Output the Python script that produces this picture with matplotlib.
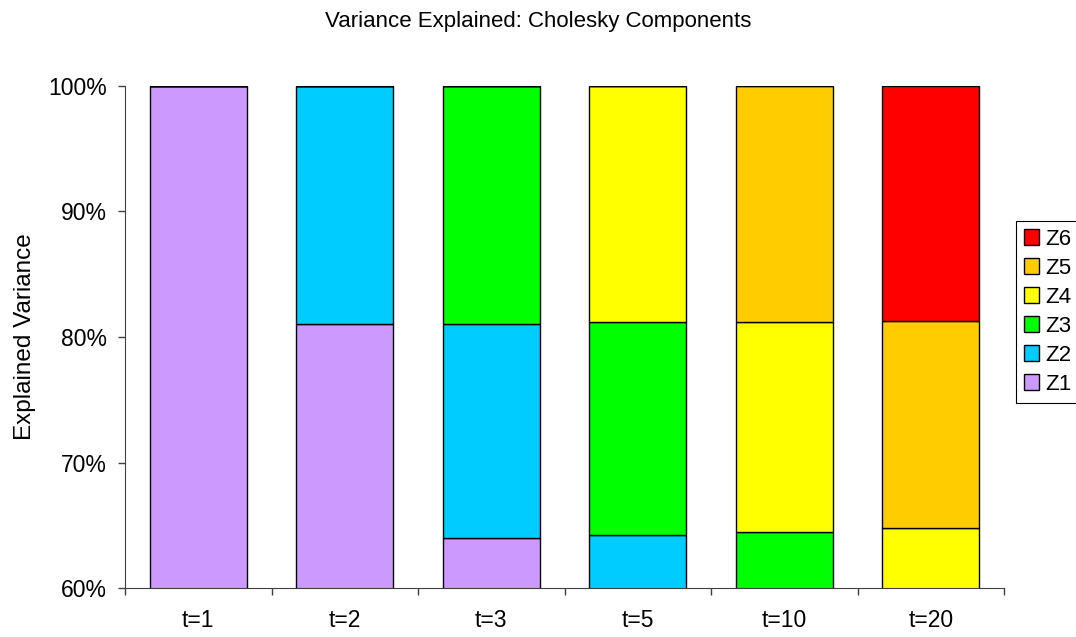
import numpy as np
import matplotlib.pyplot as plt
from matplotlib.ticker import PercentFormatter

plt.rcParams['font.family'] = ['Liberation Sans', 'DejaVu Sans']

horizons = ['t=1', 't=2', 't=3', 't=5', 't=10', 't=20']
components = ['Z1', 'Z2', 'Z3', 'Z4', 'Z5', 'Z6']
colors = ['#CC99FF', '#00CCFF', '#00FF00', '#FFFF00', '#FFCC00', '#FF0000']

# share of variance (%) for each component at each horizon
# (parts below 60% are hidden by the axis, those are rough guesses)
z1 = [100.0, 81.0, 64.0, 50.0, 42.0, 38.0]
z2 = [0.0, 19.0, 17.0, 14.2, 11.5, 10.0]
z3 = [0.0, 0.0, 19.0, 17.0, 11.0, 9.0]
z4 = [0.0, 0.0, 0.0, 18.8, 16.7, 7.75]
z5 = [0.0, 0.0, 0.0, 0.0, 18.8, 16.55]
z6 = [0.0, 0.0, 0.0, 0.0, 0.0, 18.7]

fs = 16.5

fig = plt.figure(figsize=(10.76, 6.37), dpi=100)
ax = fig.add_axes([0.1162, 0.0769, 0.8169, 0.7881])

x = np.arange(len(horizons))
bottom = np.zeros(len(horizons))
for name, vals, col in zip(components, [z1, z2, z3, z4, z5, z6], colors):
    vals = np.array(vals)
    ax.bar(x, vals, 0.66, bottom=bottom, color=col, edgecolor='black',
           linewidth=1.0, label=name)
    bottom = bottom + vals

ax.set_xlim(-0.5, len(horizons) - 0.5)
ax.set_ylim(60, 100)
ax.set_yticks([60, 70, 80, 90, 100])
ax.yaxis.set_major_formatter(PercentFormatter(decimals=0))
ax.set_xticks(x)
ax.set_xticklabels(horizons)
ax.set_xticks(np.arange(-0.5, len(horizons)), minor=True)
ax.tick_params(axis='x', which='major', length=0, pad=15, labelsize=fs)
ax.tick_params(axis='x', which='minor', length=5, width=1, color='#404040')
ax.tick_params(axis='y', length=5, width=1, color='#404040', labelsize=fs, pad=8)
for s in ['top', 'right']:
    ax.spines[s].set_visible(False)
for s in ['left', 'bottom']:
    ax.spines[s].set_color('#404040')

ax.set_ylabel('Explained Variance', fontsize=17.5, labelpad=9)
fig.text(0.5, 0.967, 'Variance Explained: Cholesky Components',
         ha='center', va='center', fontsize=16)

h, l = ax.get_legend_handles_labels()
leg = ax.legend(h[::-1], l[::-1], loc='upper left',
                bbox_to_anchor=(1016 / 1076, 1 - 221 / 637),
                bbox_transform=fig.transFigure, borderaxespad=0,
                fontsize=16, handlelength=0.68, handleheight=0.68,
                handletextpad=0.3, labelspacing=0.36, borderpad=0.35,
                fancybox=False, framealpha=1, edgecolor='black')
leg.get_frame().set_linewidth(0.8)

fig.savefig('out.png', dpi=100)
